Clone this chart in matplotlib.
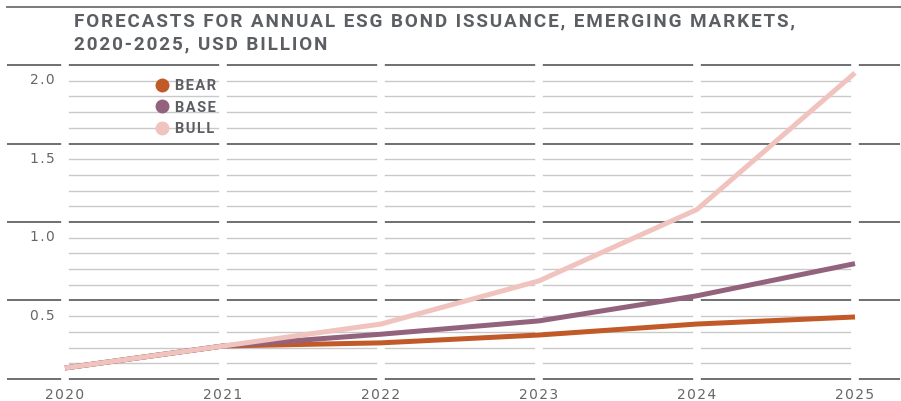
import numpy as np
from matplotlib import pyplot as plt
from matplotlib.lines import Line2D

years = [2020, 2021, 2022, 2023, 2024, 2025]
bear = [0.07, 0.21, 0.23, 0.28, 0.35, 0.395]
base = [0.07, 0.21, 0.285, 0.37, 0.53, 0.735]
bull = [0.07, 0.21, 0.35, 0.625, 1.08, 1.95]

series_names = ['BEAR', 'BASE', 'BULL']
series_colors = ['#c15a28', '#93627c', '#f0c3bf']
y_major = [0.0, 0.5, 1.0, 1.5, 2.0]
y_labels = ['', '0.5', '1.0', '1.5', '2.0']

title = 'FORECASTS FOR ANNUAL ESG BOND ISSUANCE, EMERGING MARKETS,\n2020-2025, USD BILLION'

text_gray = '#5b5e62'
hair = '\u200a'
fams = ['Roboto', 'DejaVu Sans']


def spaced(s, n=1):
    # fake letter spacing with hair spaces
    return (hair * n).join(s)


fig = plt.figure(figsize=(9.01, 4.01), dpi=100)
ax = fig.add_axes([7 / 901, 0.0354, 893 / 901, 0.8219])

ax.set_xlim(2020 - 58 / 158, 2025 + 45 / 158)
ax.set_ylim(-0.05, 2.05)

# minor gridlines between the years only
for v in np.arange(0.1, 2.0, 0.1):
    if any(abs(v - m) < 1e-6 for m in y_major):
        continue
    ax.hlines(v, years[0], years[-1], color='#c9c9c9', lw=1.0, zorder=1)

for v in y_major:
    ax.axhline(v, color='#6e6f70', lw=1.4, zorder=1)

# white gaps at each year
for yr in years:
    ax.axvline(yr, color='white', lw=5.5, zorder=2)

ax.plot(years, bear, color=series_colors[0], lw=3.6, zorder=3, solid_capstyle='butt')
ax.plot(years, base, color=series_colors[1], lw=3.6, zorder=4, solid_capstyle='butt')
ax.plot(years, bull, color=series_colors[2], lw=3.6, zorder=5, solid_capstyle='butt')

for v, lab in zip(y_major, y_labels):
    if lab:
        ax.annotate(spaced(lab), xy=(years[0], v), xytext=(-7.5, -11), textcoords='offset points',
                    ha='right', va='center', fontsize=10, color='#666666')

ax.set_xticks(years)
ax.set_xticklabels([spaced(str(y)) for y in years], fontsize=10, color='#666666')
ax.tick_params(axis='x', length=0, pad=1)
ax.set_yticks([])
for s in ax.spines.values():
    s.set_visible(False)

handles = [Line2D([], [], marker='o', linestyle='', markersize=9, color=c) for c in series_colors]
leg = ax.legend(handles, [spaced(n, 1) for n in series_names], loc='upper left',
                bbox_to_anchor=(0.151, 0.973), frameon=False, handlelength=1.0,
                handletextpad=0.4, labelspacing=0.5,
                prop={'weight': 'bold', 'size': 10.5, 'family': fams})
for t in leg.get_texts():
    t.set_color(text_gray)

fig.text(74 / 901, 1 - 12 / 401, '\n'.join(spaced(line, 1) for line in title.split('\n')),
         fontsize=13.6, fontweight='bold', color=text_gray, ha='left', va='top',
         linespacing=1.4, family=fams)

fig.add_artist(Line2D([7 / 901, 1.0], [1 - 7 / 401, 1 - 7 / 401], color='#7a7a7a', lw=1.4))

fig.savefig('out.png', dpi=100)
